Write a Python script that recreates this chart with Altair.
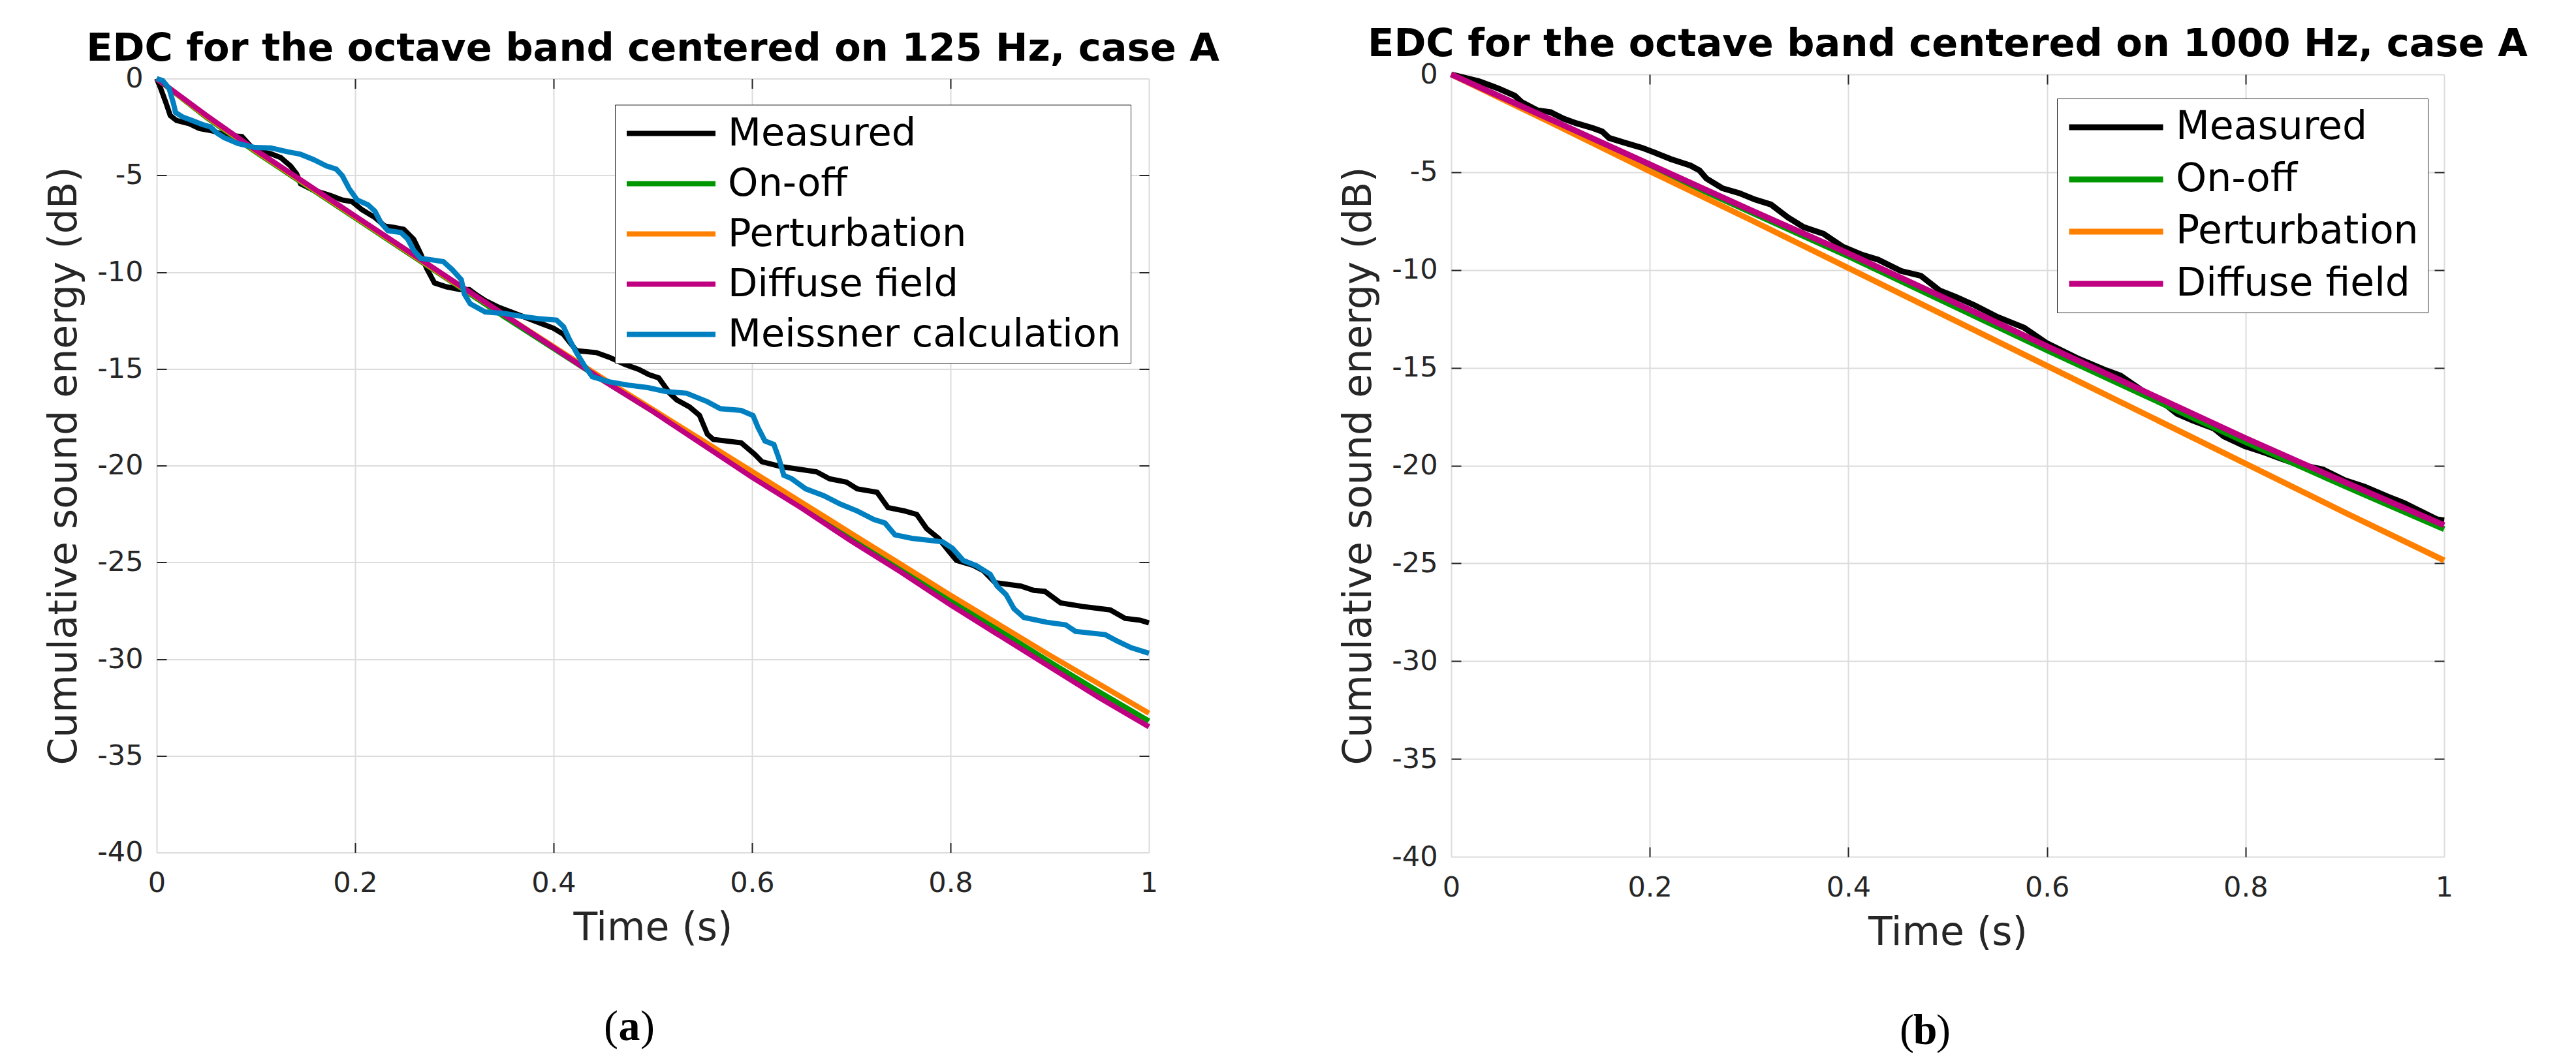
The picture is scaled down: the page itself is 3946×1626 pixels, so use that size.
import altair as alt
import pandas as pd

# ---------------- data ----------------
# (a) octave band 125 Hz
T_MODEL_125 = [0.0, 0.05, 0.1, 0.15, 0.2, 0.25, 0.3, 0.35, 0.4, 0.45, 0.5,
               0.55, 0.6, 0.65, 0.7, 0.75, 0.8, 0.85, 0.9, 0.95, 1.0]
ONOFF_125 = [0.0, -2.0, -3.8, -5.5, -7.2, -8.9, -10.6, -12.3, -13.95, -15.6, -17.2,
             -18.85, -20.5, -22.1, -23.75, -25.35, -26.95, -28.55, -30.15, -31.7, -33.2]
PERTURB_125 = [0.0, -1.95, -3.75, -5.45, -7.15, -8.85, -10.55, -12.2, -13.85, -15.5, -17.1,
               -18.7, -20.3, -21.9, -23.5, -25.1, -26.7, -28.25, -29.8, -31.3, -32.8]
DIFFUSE_125 = [0.0, -1.9, -3.7, -5.4, -7.1, -8.8, -10.5, -12.2, -13.9, -15.6, -17.2,
               -18.9, -20.6, -22.2, -23.9, -25.5, -27.2, -28.8, -30.4, -32.0, -33.5]

T_MEAS_125 = [0.0, 0.004, 0.009, 0.0137, 0.020, 0.033, 0.043, 0.056, 0.069, 0.086, 0.092,
              0.099, 0.115, 0.125, 0.135, 0.141, 0.145, 0.158, 0.174, 0.187, 0.197,
              0.207, 0.220, 0.230, 0.239, 0.249, 0.259, 0.266, 0.272, 0.280, 0.292,
              0.305, 0.315, 0.321, 0.331, 0.344, 0.357, 0.370, 0.387, 0.400, 0.410,
              0.423, 0.443, 0.456, 0.472, 0.486, 0.496, 0.506, 0.517, 0.524, 0.537,
              0.547, 0.555, 0.561, 0.589, 0.603, 0.610, 0.630, 0.665, 0.678, 0.695,
              0.706, 0.726, 0.737, 0.754, 0.766, 0.776, 0.788, 0.799, 0.806, 0.823,
              0.833, 0.845, 0.871, 0.884, 0.895, 0.911, 0.933, 0.961, 0.976, 0.991, 1.0]
MEAS_125 = [0.0, -0.5, -1.2, -1.91, -2.16, -2.33, -2.58, -2.70, -2.92, -3.0, -3.34,
            -3.71, -3.88, -4.08, -4.52, -4.92, -5.43, -5.77, -6.02, -6.27, -6.36,
            -6.78, -7.18, -7.62, -7.69, -7.79, -8.3, -9.04, -9.8, -10.56, -10.76,
            -10.89, -10.9, -11.13, -11.47, -11.8, -12.06, -12.31, -12.65, -12.9, -13.22,
            -14.06, -14.16, -14.4, -14.77, -15.03, -15.3, -15.47, -16.26, -16.6, -16.97,
            -17.4, -18.38, -18.65, -18.82, -19.43, -19.8, -20.06, -20.32, -20.68, -20.85,
            -21.2, -21.38, -22.17, -22.35, -22.53, -23.26, -23.76, -24.47, -24.9, -25.16,
            -25.43, -26.05, -26.23, -26.45, -26.5, -27.1, -27.28, -27.46, -27.9, -27.99, -28.13]

T_MEISS_125 = [0.0, 0.006, 0.0125, 0.017, 0.019, 0.026, 0.035, 0.046, 0.054, 0.061, 0.068,
               0.082, 0.099, 0.115, 0.132, 0.145, 0.158, 0.171, 0.181, 0.187, 0.194,
               0.202, 0.213, 0.220, 0.226, 0.233, 0.246, 0.253, 0.259, 0.266, 0.279,
               0.289, 0.298, 0.307, 0.310, 0.316, 0.331, 0.351, 0.367, 0.384, 0.403,
               0.410, 0.416, 0.423, 0.431, 0.439, 0.456, 0.475, 0.495, 0.513, 0.534,
               0.555, 0.568, 0.589, 0.601, 0.606, 0.613, 0.622, 0.627, 0.632, 0.640,
               0.654, 0.672, 0.689, 0.706, 0.723, 0.734, 0.744, 0.761, 0.792, 0.802,
               0.813, 0.826, 0.840, 0.847, 0.856, 0.864, 0.874, 0.897, 0.916, 0.926,
               0.956, 0.968, 0.982, 1.0]
MEISS_125 = [0.0, -0.1, -0.5, -1.3, -1.75, -1.98, -2.15, -2.37, -2.49, -2.82, -3.05,
             -3.35, -3.56, -3.58, -3.78, -3.91, -4.18, -4.51, -4.68, -5.01, -5.69,
             -6.27, -6.52, -6.85, -7.45, -7.86, -7.95, -8.29, -8.87, -9.29, -9.38,
             -9.46, -9.88, -10.39, -11.13, -11.64, -12.06, -12.14, -12.28, -12.4, -12.48,
             -12.82, -13.49, -14.16, -14.83, -15.41, -15.67, -15.84, -15.97, -16.17, -16.26,
             -16.7, -17.06, -17.15, -17.41, -18.03, -18.73, -18.91, -19.62, -20.5, -20.68,
             -21.2, -21.55, -21.99, -22.35, -22.79, -22.97, -23.58, -23.76, -23.94, -24.28,
             -24.91, -25.17, -25.62, -26.23, -26.67, -27.4, -27.85, -28.1, -28.23, -28.57,
             -28.74, -29.07, -29.41, -29.7]

# (b) octave band 1000 Hz
T_MODEL_1000 = [0.0, 0.1, 0.2, 0.3, 0.4, 0.5, 0.6, 0.7, 0.8, 0.9, 1.0]
ONOFF_1000 = [0.0, -2.35, -4.7, -7.0, -9.3, -11.7, -14.1, -16.45, -18.8, -21.05, -23.25]
PERTURB_1000 = [0.0, -2.45, -4.95, -7.4, -9.9, -12.4, -14.9, -17.4, -19.9, -22.4, -24.85]
DIFFUSE_1000 = [0.0, -2.3, -4.6, -6.9, -9.15, -11.5, -13.9, -16.25, -18.6, -20.85, -23.05]

T_MEAS_1000 = [0.0, 0.028, 0.048, 0.064, 0.071, 0.087, 0.100, 0.113, 0.126, 0.143, 0.152,
               0.159, 0.175, 0.192, 0.205, 0.221, 0.241, 0.250, 0.257, 0.273, 0.290,
               0.306, 0.322, 0.339, 0.355, 0.375, 0.394, 0.414, 0.430, 0.453, 0.473,
               0.492, 0.508, 0.527, 0.55, 0.577, 0.60, 0.63, 0.66, 0.674, 0.70,
               0.721, 0.731, 0.747, 0.768, 0.778, 0.799, 0.82, 0.836, 0.852, 0.878,
               0.900, 0.920, 0.943, 0.960, 0.975, 0.993, 1.0]
MEAS_1000 = [0.0, -0.35, -0.73, -1.09, -1.42, -1.84, -1.93, -2.26, -2.5, -2.75, -2.92,
             -3.25, -3.5, -3.75, -4.0, -4.33, -4.66, -4.91, -5.32, -5.82, -6.07,
             -6.4, -6.65, -7.31, -7.81, -8.15, -8.8, -9.23, -9.47, -10.05, -10.3,
             -11.05, -11.37, -11.8, -12.4, -12.95, -13.75, -14.5, -15.14, -15.4, -16.3,
             -16.95, -17.35, -17.7, -18.1, -18.5, -19.0, -19.35, -19.65, -19.93, -20.2,
             -20.75, -21.08, -21.58, -21.92, -22.3, -22.75, -22.8]

SERIES_125 = ["Measured", "On-off", "Perturbation", "Diffuse field", "Meissner calculation"]
COLORS_125 = ["#000000", "#009600", "#ff8000", "#bf0080", "#0080c0"]
SERIES_1000 = ["Measured", "On-off", "Perturbation", "Diffuse field"]
COLORS_1000 = ["#000000", "#009600", "#ff8000", "#bf0080"]

X_TICKS = [0, 0.2, 0.4, 0.6, 0.8, 1]
Y_TICKS = [0, -5, -10, -15, -20, -25, -30, -35, -40]
X_INNER = [0.2, 0.4, 0.6, 0.8]
Y_INNER = [-5, -10, -15, -20, -25, -30, -35]

TITLE_125 = "EDC for the octave band centered on 125 Hz, case A"
TITLE_1000 = "EDC for the octave band centered on 1000 Hz, case A"

FONT = "DejaVu Sans"
AX = "#262626"
GRID = "#dcdcdc"


def build_frame(parts):
    rows = []
    for name, ts, vs in parts:
        for t, v in zip(ts, vs):
            rows.append({"series": name, "t": t, "db": v})
    return pd.DataFrame(rows)


df125 = build_frame([
    ("Measured", T_MEAS_125, MEAS_125),
    ("On-off", T_MODEL_125, ONOFF_125),
    ("Perturbation", T_MODEL_125, PERTURB_125),
    ("Diffuse field", T_MODEL_125, DIFFUSE_125),
    ("Meissner calculation", T_MEISS_125, MEISS_125),
])
df1000 = build_frame([
    ("Measured", T_MEAS_1000, MEAS_1000),
    ("On-off", T_MODEL_1000, ONOFF_1000),
    ("Perturbation", T_MODEL_1000, PERTURB_1000),
    ("Diffuse field", T_MODEL_1000, DIFFUSE_1000),
])


def panel(df, names, colors, title, W, H, lx, ly, sym_len, lw, lab_size, row_pad,
          letter, letter_x, letter_y):
    xs = alt.Scale(domain=[0, 1], nice=False, zero=False)
    ys = alt.Scale(domain=[-40, 0], nice=False, zero=False)
    cs = alt.Scale(domain=names, range=colors)
    legend = alt.Legend(
        title=None, orient="none", legendX=lx, legendY=ly, symbolType="stroke",
        symbolSize=sym_len * sym_len, symbolStrokeWidth=lw, labelFont=FONT,
        labelFontSize=lab_size, labelColor="black", labelLimit=2000, labelOffset=15,
        padding=14, rowPadding=row_pad, clipHeight=60, fillColor="white",
        strokeColor=AX,
    )
    x_main = alt.Axis(
        title="Time (s)", values=X_TICKS, labelExpr="datum.value + ''", grid=True,
        gridColor=GRID, gridWidth=2, ticks=False, domain=False, labelFont=FONT,
        labelFontSize=43, labelColor=AX, labelPadding=26, labelFlush=False,
        labelOverlap=False, titleFont=FONT, titleFontSize=60, titleFontWeight="normal",
        titleColor=AX, titlePadding=18,
    )
    y_main = alt.Axis(
        title="Cumulative sound energy (dB)", values=Y_TICKS, labelExpr="datum.value + ''",
        grid=True, gridColor=GRID, gridWidth=2, ticks=False, domain=False, labelFont=FONT,
        labelFontSize=43, labelColor=AX, labelPadding=21, labelOverlap=False,
        titleFont=FONT, titleFontSize=60, titleFontWeight="normal", titleColor=AX,
        titlePadding=19,
    )
    layers = []
    for i, name in enumerate(names):
        layers.append(
            alt.Chart(df).transform_filter(alt.datum.series == name)
            .mark_line(strokeWidth=lw)
            .encode(
                x=alt.X("t:Q", scale=xs, axis=x_main if i == 0 else None),
                y=alt.Y("db:Q", scale=ys, axis=y_main if i == 0 else None),
                color=alt.Color("series:N", scale=cs, legend=legend),
            )
        )
    tk = dict(labels=False, ticks=True, tickSize=15, tickWidth=2, tickColor=AX,
              domain=False, grid=False, title=None)
    tick_b = alt.Chart(df).mark_line(opacity=0).encode(
        x=alt.X("t:Q", scale=xs, axis=alt.Axis(orient="bottom", offset=-H, values=X_INNER, **tk)),
        y=alt.Y("db:Q", scale=ys, axis=alt.Axis(orient="right", offset=-W, values=Y_INNER, **tk)),
        detail="series:N",
    )
    tick_c = alt.Chart(df).mark_line(opacity=0).encode(
        x=alt.X("t:Q", scale=xs, axis=alt.Axis(orient="top", offset=-H, values=X_INNER, **tk)),
        y=alt.Y("db:Q", scale=ys, axis=alt.Axis(orient="left", offset=-W, values=Y_INNER, **tk)),
        detail="series:N",
    )
    one = pd.DataFrame({"k": [0]})

    def txt(s, weight, align, dx):
        return alt.Chart(one).mark_text(
            text=s, font="Liberation Serif", fontSize=66, fontWeight=weight, align=align,
            baseline="alphabetic", dx=dx, color="black",
        ).encode(x=alt.value(letter_x), y=alt.value(letter_y))

    return alt.layer(
        *layers, tick_b, tick_c,
        txt("(", "normal", "right", -17), txt(letter, "bold", "center", 0),
        txt(")", "normal", "left", 17),
    ).resolve_axis(x="independent", y="independent").properties(
        width=W, height=H,
        title=alt.TitleParams(title, font=FONT, fontSize=59, fontWeight="bold",
                              color="black", anchor="middle", frame="group", offset=-5),
    )


left = panel(df125, SERIES_125, COLORS_125, TITLE_125, 1520, 1186, 702, 40, 136, 8, 59, 17,
             "a", 724, 1473)
right = panel(df1000, SERIES_1000, COLORS_1000, TITLE_1000, 1521, 1199, 928, 37, 144, 9, 60, 20,
              "b", 726, 1486)

chart = alt.hconcat(left, right, spacing=463, bounds="flush", center=True).resolve_scale(
    color="independent"
).configure_view(stroke=AX, strokeWidth=2).configure_legend(strokeWidth=2).configure(
    font=FONT, background="white"
).properties(
    padding={"left": 60, "top": 30, "right": 5, "bottom": 5}
)

chart.save("out.html", embed_options={"renderer": "svg", "actions": False})
